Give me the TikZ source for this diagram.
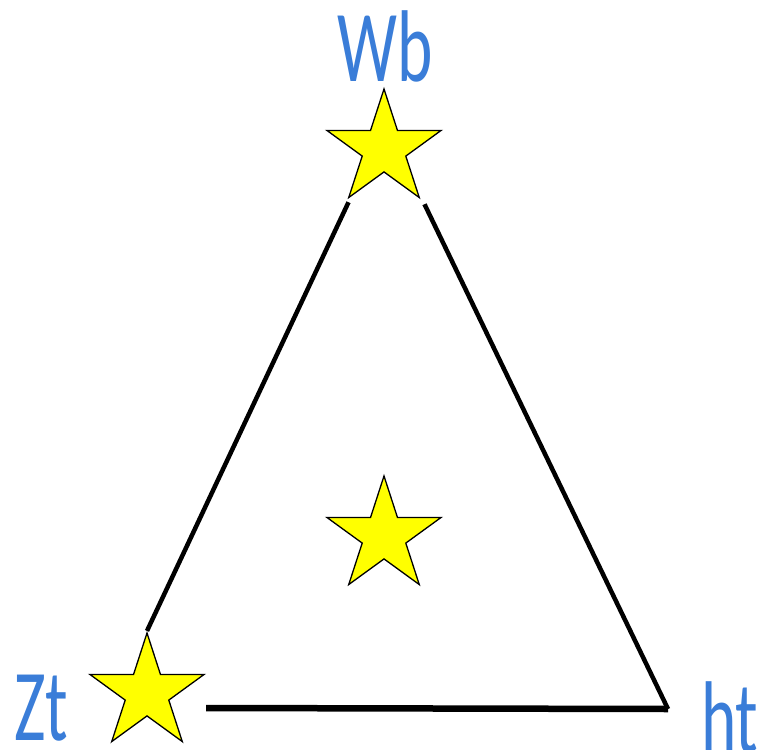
\documentclass[tikz,border=0pt]{standalone}
\usepackage{fontspec}
\newfontfamily\labfont{Carlito}
\usetikzlibrary{shapes.geometric,backgrounds,calc}
\definecolor{labblue}{RGB}{58,125,216}
\definecolor{staryellow}{RGB}{255,255,0}
\tikzset{
  starnode/.style={shape=star, star points=5, star point ratio=2.618, minimum size=120pt, inner sep=0pt, draw=black, line width=1.3pt, fill=staryellow},
  lab/.style={text=labblue, inner sep=0pt, font=\labfont\fontsize{102}{102}\selectfont},
  edge/.style={draw=black, line width=4.5pt},
  baseedge/.style={draw=black, line width=6.5pt}
}
\newcommand{\squash}[1]{\scalebox{0.66}[1]{#1}}
\begin{document}
\begin{tikzpicture}[x=1pt,y=-1pt]
\useasboundingbox (0,0) rectangle (765,749);
\node[starnode] (wb) at (384,149) {};
\node[starnode] (mid) at (384,536) {};
\node[starnode] (zt) at (147,693) {};
\coordinate (corner) at (668,709);
\node[lab, anchor=base] (lwb) at (385,82) {\squash{Wb}};
\node[lab, anchor=base west] (lzt) at (14,740) {\squash{Zt}};
\node[lab, anchor=base west] (lht) at (701,752) {\squash{ht}};
\begin{scope}[on background layer]
\draw[edge] ($(wb.outer point 3)+(1,3)$) -- (zt.outer point 1);
\draw[edge, line join=miter] ($(wb.outer point 4)+(4,5)$) -- (corner);
\draw[baseedge] ($(zt.outer point 5 |- corner)+(0,-1)$) -- (corner);
\end{scope}
\end{tikzpicture}
\end{document}
